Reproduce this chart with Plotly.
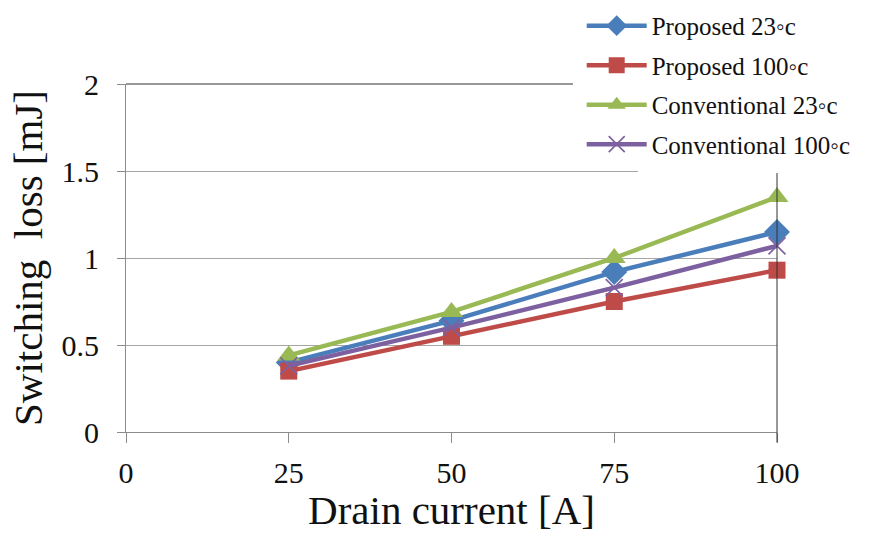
import plotly.graph_objects as go

# Drain current (A) and measured switching losses (mJ)
drain_current = [25, 50, 75, 100]
proposed_23c = [0.40, 0.64, 0.92, 1.15]
proposed_100c = [0.35, 0.55, 0.75, 0.93]
conventional_23c = [0.44, 0.69, 1.00, 1.35]
conventional_100c = [0.38, 0.60, 0.83, 1.07]

series_names = ["Proposed 23\u25e6c", "Proposed 100\u25e6c",
                "Conventional 23\u25e6c", "Conventional 100\u25e6c"]
x_ticks = [0, 25, 50, 75, 100]
y_ticks = [0, 0.5, 1, 1.5, 2]
y_tick_text = ["0", "0.5", "1", "1.5", "2"]

FONT = "Liberation Serif"

styles = [
    dict(color="#4a7ebb", symbol="diamond", size=20, mline=0),
    dict(color="#be4b48", symbol="square", size=17, mline=0),
    dict(color="#98b954", symbol="triangle-up", size=20, mline=0),
    dict(color="#7d60a0", symbol="x-thin-open", size=17, mline=1.6),
]
values = [proposed_23c, proposed_100c, conventional_23c, conventional_100c]

fig = go.Figure()
for i, (name, ys, st) in enumerate(zip(series_names, values, styles)):
    fig.add_trace(go.Scatter(
        x=drain_current, y=ys, name=name, mode="lines+markers",
        legendgroup=f"g{i}",
        line=dict(color=st["color"], width=4.5),
        marker=dict(symbol=st["symbol"], size=st["size"], color=st["color"],
                    line=dict(color=st["color"], width=st["mline"])),
        cliponaxis=False,
    ))

fig.update_layout(
    width=873, height=533,
    margin=dict(l=126, r=96, t=84, b=101, autoexpand=False),
    paper_bgcolor="white", plot_bgcolor="white",
    font=dict(family=FONT, color="#111111"),
    showlegend=True,
    legend=dict(
        x=0.70, y=1.233, xanchor="left", yanchor="top",
        bgcolor="rgba(255,255,255,0)",
        font=dict(family=FONT, size=25, color="#111111"),
        tracegroupgap=4, itemwidth=60,
    ),
    xaxis=dict(
        range=[0, 100], tickvals=x_ticks, ticktext=[str(v) for v in x_ticks],
        showgrid=False, zeroline=False,
        showline=True, linecolor="#8c8c8c", linewidth=1,
        ticks="outside", ticklen=10, tickcolor="#8c8c8c",
        tickfont=dict(family=FONT, size=30), ticklabelstandoff=4,
        title=dict(text="Drain current [A]", font=dict(family=FONT, size=41), standoff=6),
    ),
    yaxis=dict(
        range=[0, 2], tickvals=y_ticks, ticktext=y_tick_text,
        showgrid=True, gridcolor="#a6a6a6", gridwidth=1, zeroline=False,
        showline=True, linecolor="#8c8c8c", linewidth=1,
        ticks="outside", ticklen=8, tickcolor="#8c8c8c",
        tickfont=dict(family=FONT, size=30), ticklabelstandoff=12,
        title=dict(text="Switching  loss [mJ]", font=dict(family=FONT, size=41), standoff=6),
    ),
    shapes=[
        # top and right frame lines
        dict(type="line", xref="paper", yref="paper", x0=0, x1=1, y0=1, y1=1,
             line=dict(color="#303030", width=1), layer="above"),
        dict(type="line", xref="paper", yref="paper", x0=1, x1=1, y0=-0.03, y1=1,
             line=dict(color="#303030", width=1), layer="above"),
        # white legend backing
        dict(type="rect", xref="paper", yref="paper", x0=0.6866, x1=1.2, y0=0.767, y1=1.3,
             fillcolor="white", line=dict(width=0), layer="above"),
        dict(type="rect", xref="paper", yref="paper", x0=0.7865, x1=1.2, y0=0.744, y1=1.3,
             fillcolor="white", line=dict(width=0), layer="above"),
    ],
)

fig.write_html("out.html")
